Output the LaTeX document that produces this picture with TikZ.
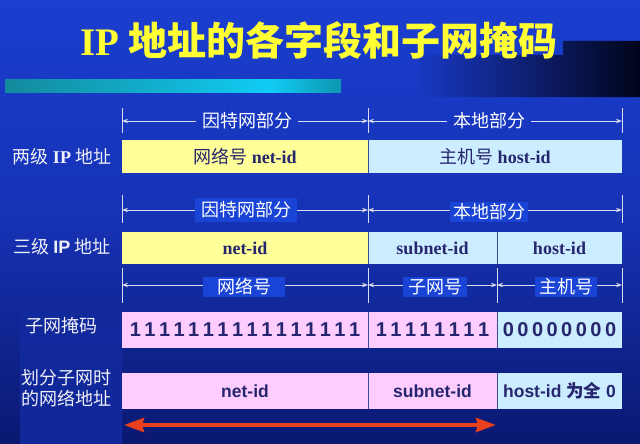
\documentclass[tikz,border=0pt]{standalone}
\usepackage{fontspec}
\setmainfont{Liberation Serif}
\newfontfamily\cjk{Noto Sans CJK SC}
\newfontfamily\ars{Liberation Sans}
\usetikzlibrary{arrows.meta}
\definecolor{bgtop}{HTML}{1A3ED0}
\definecolor{bgmid}{HTML}{1632B4}
\definecolor{bgbot}{HTML}{0A1870}
\definecolor{panelbot}{HTML}{10289A}
\definecolor{bandleft}{HTML}{1838C2}
\definecolor{bandmid}{HTML}{0D1B70}
\definecolor{bandright}{HTML}{02051A}
\definecolor{cbA}{HTML}{138A9C}
\definecolor{cbB}{HTML}{10CCF4}
\definecolor{cbC}{HTML}{0E96B0}
\definecolor{ylw}{HTML}{FFFF99}
\definecolor{lblue}{HTML}{CCECFF}
\definecolor{pnk}{HTML}{FFCCFF}
\definecolor{ink}{HTML}{26266E}
\definecolor{sepc}{HTML}{3A4C9A}
\definecolor{dimc}{HTML}{D8DCF0}
\definecolor{lblbg}{HTML}{1A44D6}
\definecolor{lbltext}{HTML}{F0F0F8}
\definecolor{arrowred}{HTML}{E8401C}
\definecolor{ttl}{HTML}{FFFF33}
\newcommand\digitrow[2]{\foreach \k in {1,...,#1}{#2\ifnum\k<#1\hspace{3.5pt}\fi}}
\begin{document}
\begin{tikzpicture}[x=1pt,y=-1pt,
  cellbox/.style={anchor=north west, inner sep=0pt, outer sep=0pt, text=ink},
  serifcell/.style={cellbox, font=\bfseries\fontsize{18}{20}\selectfont},
  sanscell/.style={cellbox, font=\ars\bfseries\fontsize{17.5}{20}\selectfont},
  maskcell/.style={cellbox, font=\ars\bfseries\fontsize{20}{22}\selectfont},
  sep/.style={draw=sepc, line width=1pt},
  dimline/.style={draw=dimc, line width=0.9pt},
  dimarrow/.style={dimline, -{Stealth[length=6pt,width=4.5pt]}},
  dimlabel/.style={text=white, inner xsep=6pt, inner ysep=2pt, outer sep=0pt, font=\cjk\fontsize{18}{20}\selectfont},
  dimlabelbox/.style={dimlabel, fill=lblbg},
  rowlabel/.style={text=lbltext, inner sep=0pt, font=\cjk\fontsize{18}{21}\selectfont, align=center},
  redarrow/.style={draw=arrowred, line width=4pt, {Stealth[length=20pt,width=14pt,inset=2pt]}-{Stealth[length=20pt,width=14pt,inset=2pt]}}
]
\useasboundingbox (0,0) rectangle (640,444);
% background
\shade[top color=bgtop, bottom color=bgmid] (0,0) rectangle (640,222);
\shade[top color=bgmid, bottom color=bgbot] (0,222) rectangle (640,444);
\shade[top color=bgmid!65!bgbot, bottom color=panelbot] (20,300) rectangle (122,444);
\shade[left color=bandleft, middle color=bandmid, right color=bandright]
  (420,55) -- (563,55) -- (563,41) -- (640,41) -- (640,97) -- (420,97) -- cycle;
% cyan bar
\shade[left color=cbA, right color=cbB] (5,80) rectangle (270,92);
\shade[left color=cbB, right color=cbC] (270,80) rectangle (341,92);
% title
\node[text=ttl, inner sep=0pt, font=\fontsize{39}{44}\selectfont] (title) at (319,40)
  {\textbf{IP} {\cjk\bfseries 地址的各字段和子网掩码}};

% ---- row 1: two-level
\coordinate (d1a) at (122,121);
\coordinate (d1b) at (368,121);
\coordinate (d1c) at (622,121);
\draw[dimline] (122,108) -- (122,133);
\draw[dimline] (368,108) -- (368,133);
\draw[dimline] (622,108) -- (622,133);
\node[dimlabel] (d1l) at (247,121) {因特网部分};
\node[dimlabel] (d1r) at (489,121) {本地部分};
\draw[dimarrow] (d1l.west |- d1a) -- (d1a);
\draw[dimarrow] (d1l.east |- d1a) -- (d1b);
\draw[dimarrow] (d1r.west |- d1a) -- (d1b);
\draw[dimarrow] (d1r.east |- d1a) -- (d1c);

\node[rowlabel] (lab1) at (62,157) {两级 {\rmfamily\bfseries IP} 地址};
\node[serifcell, fill=ylw, minimum width=246pt, minimum height=33pt] (r1net) at (122,140)
  {{\cjk\mdseries 网络号} net-id};
\node[serifcell, fill=lblue, minimum width=254pt, minimum height=33pt] (r1host) at (368,140)
  {{\cjk\mdseries 主机号} host-id};
\draw[sep] (r1net.north east) -- (r1net.south east);

% ---- row 2: three-level
\coordinate (d2a) at (122,210);
\coordinate (d2b) at (368,210);
\coordinate (d2c) at (622,210);
\draw[dimline] (122,195) -- (122,223);
\draw[dimline] (368,195) -- (368,223);
\draw[dimline] (622,195) -- (622,223);
\node[dimlabelbox, inner ysep=4pt] (d2l) at (246,210) {因特网部分};
\node[dimlabelbox, inner xsep=3pt] (d2r) at (489,212) {本地部分};
\draw[dimarrow] (d2l.west |- d2a) -- (d2a);
\draw[dimarrow] (d2l.east |- d2a) -- (d2b);
\draw[dimarrow] (d2r.west |- d2a) -- (d2b);
\draw[dimarrow] (d2r.east |- d2a) -- (d2c);

\node[rowlabel] (lab2) at (62,247) {三级 {\ars\bfseries IP} 地址};
\node[serifcell, fill=ylw, minimum width=246pt, minimum height=32pt] (r2net) at (122,232) {net-id};
\node[serifcell, fill=lblue, minimum width=129pt, minimum height=32pt] (r2sub) at (368,232) {subnet-id};
\node[serifcell, fill=lblue, minimum width=125pt, minimum height=32pt] (r2host) at (497,232) {host-id};
\draw[sep] (r2net.north east) -- (r2net.south east);
\draw[sep] (r2sub.north east) -- (r2sub.south east);

\coordinate (d3a) at (122,285);
\coordinate (d3b) at (368,285);
\coordinate (d3c) at (497,285);
\coordinate (d3d) at (622,285);
\draw[dimline] (122,268) -- (122,303);
\draw[dimline] (368,268) -- (368,303);
\draw[dimline] (497,268) -- (497,303);
\draw[dimline] (622,268) -- (622,303);
\node[dimlabelbox, inner xsep=14pt, inner ysep=1.5pt] (d3n) at (244,287) {网络号};
\node[dimlabelbox, inner xsep=5pt] (d3s) at (435,287) {子网号};
\node[dimlabelbox, inner xsep=4pt] (d3h) at (566,287) {主机号};
\draw[dimarrow] (d3n.west |- d3a) -- (d3a);
\draw[dimarrow] (d3n.east |- d3a) -- (d3b);
\draw[dimarrow] (d3s.west |- d3a) -- (d3b);
\draw[dimarrow] (d3s.east |- d3a) -- (d3c);
\draw[dimarrow] (d3h.west |- d3a) -- (d3c);
\draw[dimarrow] (d3h.east |- d3a) -- (d3d);

% ---- row 3: subnet mask
\node[rowlabel] (lab3) at (61,326) {子网掩码};
\node[maskcell, fill=pnk, minimum width=246pt, minimum height=36pt] (m1) at (122,312) {\digitrow{16}{1}};
\node[maskcell, fill=pnk, minimum width=129pt, minimum height=36pt] (m2) at (368,312) {\digitrow{8}{1}};
\node[maskcell, fill=lblue, minimum width=125pt, minimum height=36pt] (m3) at (497,312) {\digitrow{8}{0}};
\draw[sep] (m1.north east) -- (m1.south east);
\draw[sep] (m2.north east) -- (m2.south east);

% ---- row 4: network address
\node[rowlabel] (lab4) at (66,388) {划分子网时\\的网络地址};
\node[sanscell, fill=pnk, minimum width=246pt, minimum height=36pt] (n1) at (122,373) {net-id};
\node[sanscell, fill=pnk, minimum width=129pt, minimum height=36pt] (n2) at (368,373) {subnet-id};
\node[sanscell, fill=lblue, minimum width=125pt, minimum height=36pt] (n3) at (497,373)
  {host-id {\cjk\bfseries 为全} 0};
\draw[sep] (n1.north east) -- (n1.south east);
\draw[sep] (n2.north east) -- (n2.south east);

% red double arrow
\coordinate (ra) at (124,425);
\coordinate (rb) at (496,425);
\draw[redarrow] (ra) -- (rb);
\end{tikzpicture}
\end{document}
